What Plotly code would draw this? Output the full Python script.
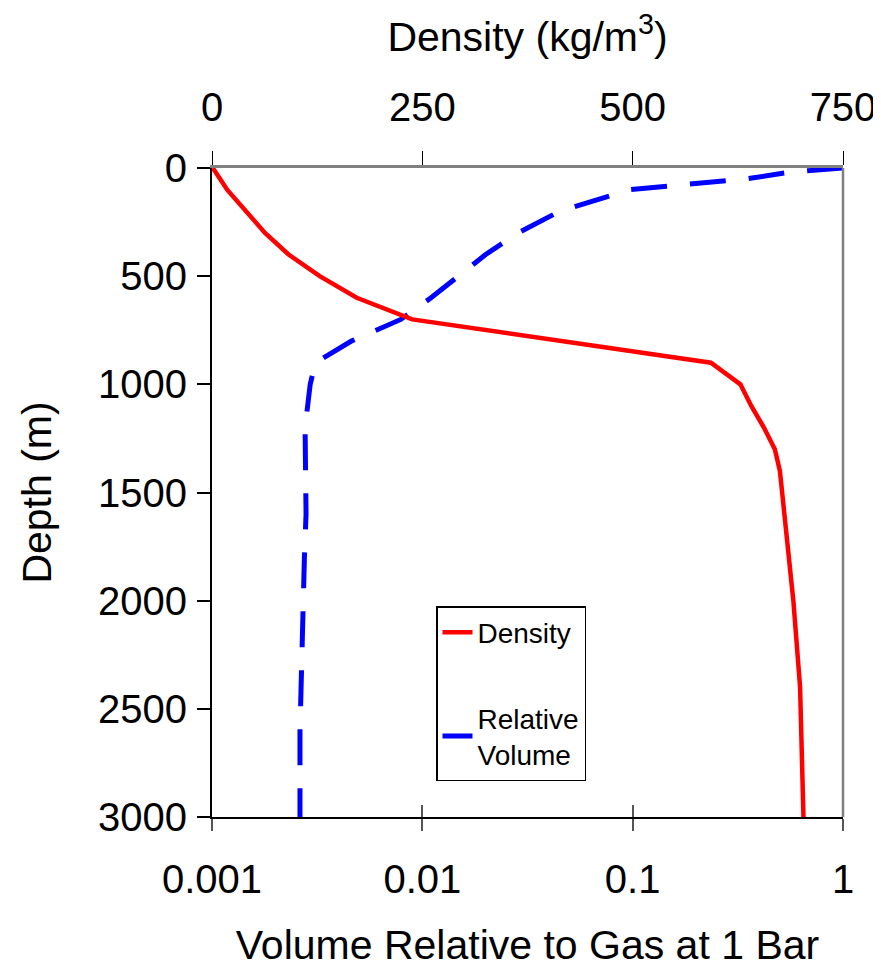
import plotly.graph_objects as go

# Density profile (kg/m^3) vs depth (m)
density_depth = [0, 100, 300, 400, 500, 600, 700, 900, 1000, 1100, 1200, 1300, 1400, 2000, 2400, 3000]
density_vals = [1, 18, 63, 91, 128, 172, 238, 593, 628, 641, 656, 669, 675, 691, 699, 703]

# Relative volume (to gas at 1 bar) vs depth (m)
volume_depth = [0, 20, 50, 100, 200, 300, 400, 500, 600, 700, 800, 900, 1000, 1200, 1400,
                1600, 1800, 2000, 2200, 2400, 2600, 2800, 3000]
volume_vals = [1, 0.55, 0.35, 0.097, 0.045, 0.0285, 0.020, 0.0148, 0.011, 0.0079, 0.0046,
               0.0031, 0.00293, 0.00277, 0.0028, 0.0028, 0.00275, 0.00272, 0.00266,
               0.00263, 0.00262, 0.00262, 0.00262]

depth_ticks = [0, 500, 1000, 1500, 2000, 2500, 3000]
volume_ticks = [0.001, 0.01, 0.1, 1]
volume_ticktext = ["0.001", "0.01", "0.1", "1"]
density_ticks = [0, 250, 500, 750]

FONT = "Liberation Sans"
TITLE_FONT = dict(family=FONT, size=41, color="black")

fig = go.Figure()
fig.add_trace(go.Scatter(
    x=density_vals, y=density_depth, mode="lines", name="Density",
    xaxis="x2", yaxis="y", legendgroup="a",
    line=dict(color="#ff0000", width=4.5),
))
fig.add_trace(go.Scatter(
    x=volume_vals, y=volume_depth, mode="lines", name="Relative<br>Volume",
    xaxis="x", yaxis="y", legendgroup="b",
    line=dict(color="#0000ff", width=5, dash="36px,23px"),
))
# invisible trace to activate the crossing tick overlay axis
fig.add_trace(go.Scatter(x=[0.001], y=[0], xaxis="x3", yaxis="y", mode="markers",
                         marker=dict(opacity=0), showlegend=False, hoverinfo="skip"))

fig.update_layout(
    width=881, height=967,
    margin=dict(l=204, r=46, t=160, b=158, autoexpand=False),
    paper_bgcolor="white", plot_bgcolor="white",
    font=dict(family=FONT, size=40, color="black"),
    showlegend=True,
    legend=dict(
        x=0.355, y=0.325, xanchor="left", yanchor="top",
        bgcolor="white", bordercolor="black", borderwidth=1.5,
        font=dict(size=28, family=FONT),
        tracegroupgap=46,
    ),
    xaxis=dict(
        type="log", range=[-3, 0], tickvals=volume_ticks, ticktext=volume_ticktext,
        side="bottom", showgrid=False, zeroline=False, automargin=False,
        showline=True, linecolor="black", linewidth=2,
        ticks="outside", ticklen=12, tickwidth=1.5, tickcolor="#555",
        ticklabelstandoff=14,
        title=dict(text="Volume Relative to Gas at 1 Bar", standoff=30, font=TITLE_FONT),
    ),
    xaxis2=dict(
        range=[0, 750], tickvals=density_ticks, overlaying="x", side="top",
        anchor="y", showgrid=False, zeroline=False, automargin=False,
        showline=True, linecolor="#808080", linewidth=2.5,
        ticks="outside", ticklen=14, tickwidth=1, tickcolor="black",
        ticklabelstandoff=14,
        title=dict(text="Density (kg/m<sup>3</sup>)", standoff=30, font=TITLE_FONT),
    ),
    xaxis3=dict(
        type="log", range=[-3, 0], tickvals=volume_ticks, overlaying="x", side="bottom",
        anchor="y", showgrid=False, zeroline=False, showticklabels=False, automargin=False,
        ticks="inside", ticklen=12, tickwidth=1.5, tickcolor="#555",
    ),
    yaxis=dict(
        range=[3000, 0], tickvals=depth_ticks, showgrid=False, zeroline=False,
        automargin=False,
        showline=True, linecolor="black", linewidth=2,
        ticks="outside", ticklen=13, tickwidth=1.5, tickcolor="black",
        ticklabelstandoff=2,
        title=dict(text="Depth (m)", standoff=34, font=TITLE_FONT),
    ),
    shapes=[dict(type="line", xref="paper", yref="paper", x0=1, x1=1, y0=0, y1=1,
                 line=dict(color="#808080", width=2.5))],
)

fig.write_html("out.html")
